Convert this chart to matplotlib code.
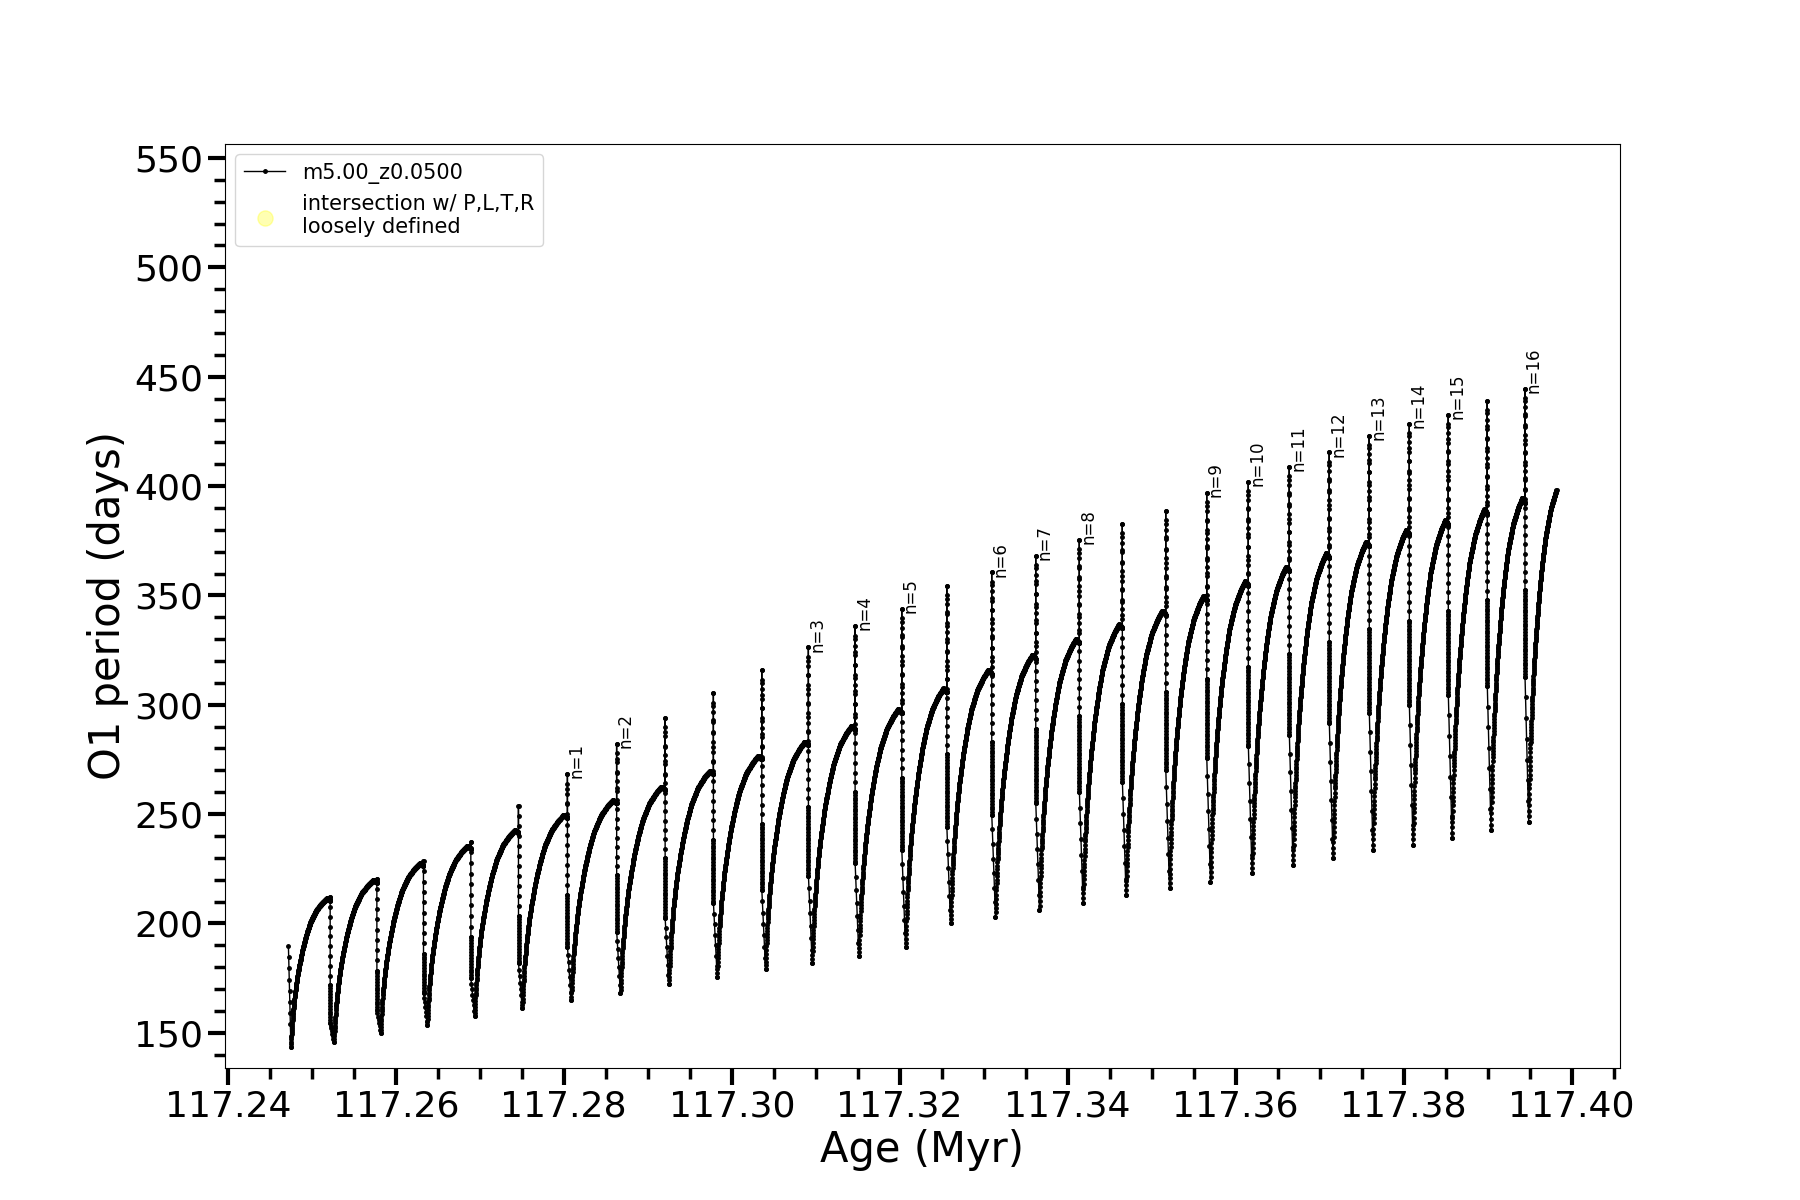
import numpy as np
import matplotlib
matplotlib.use('Agg')
import matplotlib.pyplot as plt
from matplotlib.ticker import MultipleLocator, FormatStrFormatter

# values: one entry per thermal pulse
pulse_age = [117.25218, 117.25774, 117.26329, 117.26893, 117.27460, 117.28043, 117.28629,
             117.29206, 117.29781, 117.30357, 117.30912, 117.31468, 117.32024, 117.32560,
             117.33095, 117.33619, 117.34138, 117.34650, 117.35167, 117.35655, 117.36150,
             117.36638, 117.37114, 117.37590, 117.38067, 117.38531, 117.38995, 117.39444]
plateau = [211.5, 219.8, 227.5, 235.4, 242.7, 249.6, 256.4, 262.5, 269.7, 276.6, 283.1, 290.3,
           298.0, 307.5, 315.9, 322.8, 330.1, 336.8, 343.1, 349.8, 356.5, 363.2, 369.3, 374.6,
           380.0, 384.5, 389.4, 394.5]
spike_top = [212.0, 220.5, 228.5, 237.4, 253.7, 268.3, 282.2, 294.1, 305.5, 315.9, 326.3, 336.0,
             343.8, 354.5, 360.6, 368.2, 375.4, 382.7, 388.7, 397.0, 402.0, 408.9, 415.5, 423.1,
             428.5, 432.6, 439.1, 444.5]
drop_bottom = [154.4, 160.4, 168.0, 174.9, 181.7, 189.1, 196.2, 202.3, 209.2, 215.3, 221.7, 227.5,
               233.5, 244.2, 249.6, 254.9, 260.2, 264.8, 270.2, 275.5, 281.0, 286.2, 291.5, 296.4,
               299.9, 304.5, 308.6, 312.9]
dip_min = [145.9, 150.0, 153.5, 157.6, 161.2, 165.0, 168.0, 172.3, 175.6, 179.1, 182.0, 185.1,
           189.1, 200.0, 203.1, 206.1, 209.5, 213.0, 216.1, 219.1, 222.9, 226.5, 229.8, 233.6,
           235.9, 238.9, 242.7, 246.5]

start_age, start_val, first_min = 117.24721, 189.7, 143.6
end_age, last_plateau = 117.39821, 402.0

# labelled pulses (1-based index into pulse_age) and their n
label_pulse = [6, 7, 11, 12, 13, 15, 16, 17, 20, 21, 22, 23, 24, 25, 26, 28]
label_n = list(range(1, 17))

# recovery shape of the period between pulses, read from one cycle
arc_u = [0, 0.02, 0.05, 0.1, 0.15, 0.2, 0.3, 0.4, 0.5, 0.65, 0.8, 0.92, 1.0]
arc_f = [0, 0.10, 0.22, 0.35, 0.45, 0.53, 0.66, 0.76, 0.84, 0.92, 0.97, 1.0, 0.985]

dmin = 0.00045


def arc(t0, t1, v0, v1, span=None, n=300):
    if span is None:
        span = t1 - t0
    t = np.linspace(t0, t1, n)
    f = np.interp((t - t0) / span, arc_u, arc_f)
    return list(t), list(v0 + (v1 - v0) * f)


age, period = [], []

# first (partial) cycle
age += list(np.linspace(start_age, start_age + 0.0003, 10))
period += list(np.linspace(start_val, first_min, 10))
t, v = arc(start_age + 0.0003, pulse_age[0], first_min, plateau[0])
age += t
period += v

for i in range(len(pulse_age)):
    tp = pulse_age[i]
    v_end = period[-1]
    nu = max(2, int((spike_top[i] - v_end) / 5))
    age += [tp] * nu
    period += list(np.linspace(v_end, spike_top[i], nu))
    # back down, denser near the bottom
    mid = drop_bottom[i] + 0.3 * (spike_top[i] - drop_bottom[i])
    n1 = max(2, int((spike_top[i] - mid) / 4))
    n2 = max(2, int((mid - drop_bottom[i]) / 1.2))
    age += [tp + 1e-5] * (n1 + n2)
    period += list(np.linspace(spike_top[i], mid, n1)) + list(np.linspace(mid, drop_bottom[i], n2))
    age += list(np.linspace(tp + 1e-5, tp + dmin, 8))
    period += list(np.linspace(drop_bottom[i], dip_min[i], 8))
    if i + 1 < len(pulse_age):
        t, v = arc(tp + dmin, pulse_age[i + 1], dip_min[i], plateau[i + 1])
    else:
        span = pulse_age[i] - pulse_age[i - 1] - dmin
        t, v = arc(tp + dmin, end_age, dip_min[i], last_plateau, span=span, n=250)
    age += t
    period += v

fig = plt.figure(figsize=(18, 12), dpi=100)
ax = fig.add_subplot(1, 1, 1)
ax.plot(age, period, '.-', color='k', lw=1, ms=5, label='m5.00_z0.0500')
ax.scatter([], [], color='yellow', alpha=0.3, s=120,
           label='intersection w/ P,L,T,R\nloosely defined')

for k, n in zip(label_pulse, label_n):
    ax.text(pulse_age[k - 1], spike_top[k - 1] - 2, 'n=%d' % n, rotation=90,
            fontsize=12, ha='left', va='bottom')

ax.set_ylim(133.9, 556.4)
ax.xaxis.set_major_locator(MultipleLocator(0.02))
ax.xaxis.set_minor_locator(MultipleLocator(0.005))
ax.xaxis.set_major_formatter(FormatStrFormatter('%.2f'))
ax.yaxis.set_major_locator(MultipleLocator(50))
ax.yaxis.set_minor_locator(MultipleLocator(10))
ax.tick_params(which='major', length=12, width=3, labelsize=26)
ax.tick_params(which='minor', length=8, width=2.5)
ax.set_xlabel('Age (Myr)', fontsize=30)
ax.set_ylabel('O1 period (days)', fontsize=30)
ax.legend(loc='upper left', fontsize=15)

plt.savefig('out.png')
